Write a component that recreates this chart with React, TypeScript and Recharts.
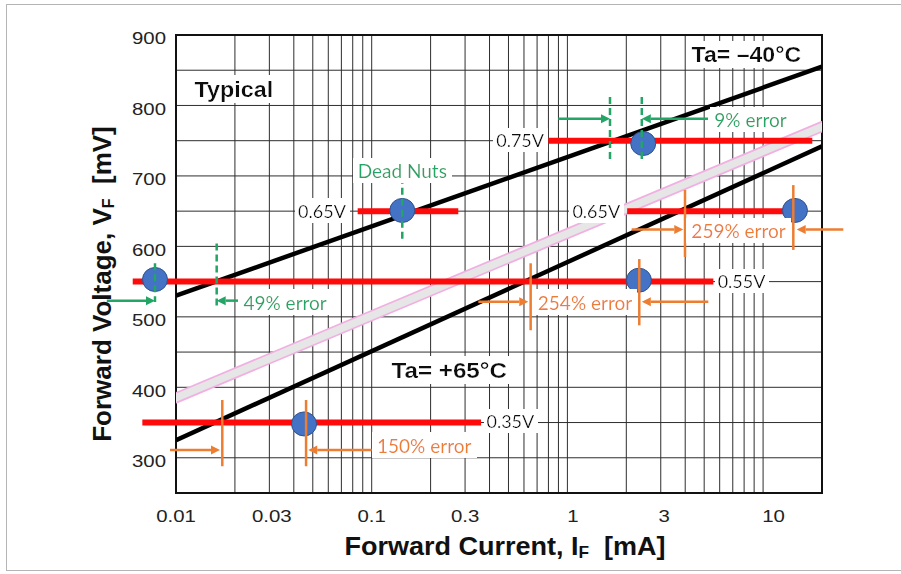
import React from 'react';
import {
  LineChart,
  Line,
  XAxis,
  YAxis,
  CartesianGrid,
  ReferenceLine,
  ReferenceDot,
  ReferenceArea,
} from 'recharts';

// ---------- data (mA on x, mV on y) ----------
const X_TICKS = [0.01, 0.03, 0.1, 0.3, 1, 3, 10];
const Y_TICKS = [300, 400, 500, 600, 700, 800, 900];
const GRID_X = [
  0.01, 0.02, 0.03, 0.04, 0.05, 0.06, 0.07, 0.08, 0.09,
  0.1, 0.2, 0.3, 0.4, 0.5, 0.6, 0.7, 0.8, 0.9,
  1, 2, 3, 4, 5, 6, 7, 8, 9, 10, 20,
];
const GRID_Y = [250, 300, 350, 400, 450, 500, 550, 600, 650, 700, 750, 800, 850, 900];

const CURVE_COLD = [{ x: 0.01, y: 530 }, { x: 20, y: 855 }]; // Ta = -40
const CURVE_TYPICAL = [{ x: 0.01, y: 385 }, { x: 20, y: 770 }];
const CURVE_HOT = [{ x: 0.01, y: 325 }, { x: 20, y: 742 }]; // Ta = +65

const BARS = [
  { y: 750, x1: 0.799, x2: 17.84 },
  { y: 650, x1: 0.0848, x2: 0.277 },
  { y: 650, x1: 2.02, x2: 14.5 },
  { y: 550, x1: 0.00601, x2: 5.57 },
  { y: 350, x1: 0.00673, x2: 0.362 },
];

const POINTS = [
  { x: 2.44, y: 746 },
  { x: 0.1433, y: 651 },
  { x: 14.55, y: 651 },
  { x: 0.00781, y: 553 },
  { x: 2.32, y: 552 },
  { x: 0.0451, y: 348 },
];

const VOLT_LABELS = [
  { text: '0.75V', x: 0.573, y: 750 },
  { text: '0.65V', x: 0.0557, y: 650 },
  { text: '0.65V', x: 1.405, y: 650 },
  { text: '0.55V', x: 7.76, y: 550 },
  { text: '0.35V', x: 0.511, y: 351 },
];

const GREEN_MARKERS = [
  { x: 1.651, y1: 812, y2: 723 },
  { x: 2.4, y1: 812, y2: 723 },
  { x: 0.1433, y1: 699, y2: 609 },
  { x: 0.00781, y1: 576, y2: 521 },
  { x: 0.01614, y1: 604, y2: 514 },
];

const ORANGE_MARKERS = [
  { x: 3.99, y1: 680, y2: 585 },
  { x: 14.27, y1: 687, y2: 595 },
  { x: 0.649, y1: 576, y2: 481 },
  { x: 2.33, y1: 582, y2: 488 },
  { x: 0.01724, y1: 382, y2: 288 },
  { x: 0.0462, y1: 382, y2: 288 },
];

const GREEN_ARROWS = [
  { y: 781, from: 0.898, to: 1.651 },
  { y: 781, from: 5.23, to: 2.4 },
  { y: 523, from: 0.00443, to: 0.00781 },
  { y: 523, from: 0.02074, to: 0.01614 },
];

const ORANGE_ARROWS = [
  { y: 624, from: 2.13, to: 3.91 },
  { y: 624, from: 25.7, to: 14.85 },
  { y: 521.5, from: 0.3505, to: 0.631 },
  { y: 521.5, from: 5.25, to: 2.4 },
  { y: 311, from: 0.00932, to: 0.01678 },
  { y: 311, from: 0.1, to: 0.0474 },
];

const GREEN_NOTES = [
  { text: 'Dead Nuts', x: 0.1433, y: 707 },
  { text: '9% error', x: 8.62, y: 779 },
  { text: '49% error', x: 0.0361, y: 520 },
];

const ORANGE_NOTES = [
  { text: '259% error', x: 7.49, y: 622 },
  { text: '254% error', x: 1.23, y: 520 },
  { text: '150% error', x: 0.1855, y: 317 },
];

const TITLES = [
  { text: 'Typical', x: 0.01976, y: 823.5 },
  { text: 'Ta= –40°C', x: 8.21, y: 873 },
  { text: 'Ta= +65°C', x: 0.249, y: 425 },
];

// ---------- styling ----------
const W = 901;
const H = 574;
const GREEN = '#22a565';
const ORANGE = '#ed7d31';
const RED = '#fe0a0a';
const BLUE = '#4472c4';
const AXIS_FONT = '"Liberation Sans", Arial, Helvetica, sans-serif';
const NOTE_FONT = 'Lato, "Open Sans", sans-serif';
const X_NUDGE: Record<string, number> = { '0.03': 2.5, '1': 5.5, '3': 3.5, '10': 10.5 };
const TITLE_STRETCH = [1.06, 1.05, 1.1];

const XTick = (p: any) => {
  const v = p.payload?.value;
  const nudge = X_NUDGE[String(v)] ?? 0;
  return (
    <text
      transform={`translate(${p.x + nudge},${p.y + 20.8}) scale(1.2,1)`}
      x={0}
      y={0}
      textAnchor="middle"
      fontFamily={AXIS_FONT}
      fontSize={17}
      fill="#222"
    >
      {String(v)}
    </text>
  );
};

const YTick = (p: any) => (
  <text
    transform={`translate(${p.x},${p.y + 9.2}) scale(1.2,1)`}
    x={0}
    y={0}
    textAnchor="end"
    fontFamily={AXIS_FONT}
    fontSize={17}
    fill="#222"
  >
    {String(p.payload?.value)}
  </text>
);

const XTitle = (p: any) => {
  const vb = p.viewBox || { x: 176, y: 493, width: 646 };
  return (
    <text
      transform={`translate(${vb.x + vb.width / 2 + 6},${vb.y + 61.5}) scale(1.08,1)`}
      x={0}
      y={0}
      textAnchor="middle"
      fontFamily={AXIS_FONT}
      fontWeight="bold"
      fontSize={25}
      fill="#111"
      style={{ whiteSpace: 'pre' }}
    >
      Forward Current, I
      <tspan fontSize={16} dy={3}>F</tspan>
      <tspan dy={-3}>{'  [mA]'}</tspan>
    </text>
  );
};

const YTitle = (p: any) => {
  const vb = p.viewBox || { x: 0, y: 35, width: 176, height: 458 };
  const cx = vb.x + 111;
  const cy = vb.y + vb.height / 2 + 20;
  return (
    <text
      transform={`translate(${cx},${cy}) rotate(-90)`}
      x={0}
      y={0}
      textAnchor="middle"
      fontFamily={AXIS_FONT}
      fontWeight="bold"
      fontSize={26}
      fill="#111"
      style={{ whiteSpace: 'pre' }}
    >
      Forward Voltage, V
      <tspan fontSize={16} dy={3}>F</tspan>
      <tspan dy={-3}>{'  [mV]'}</tspan>
    </text>
  );
};

const makeArrow = (color: string) => (p: any) => {
  const { x1, y1, x2, y2 } = p;
  const dx = x2 - x1;
  const dy = y2 - y1;
  const len = Math.hypot(dx, dy) || 1;
  const ux = dx / len;
  const uy = dy / len;
  const L = 9;
  const Wd = 4.5;
  const bx = x2 - ux * L;
  const by = y2 - uy * L;
  return (
    <g>
      <line x1={x1} y1={y1} x2={bx} y2={by} stroke={color} strokeWidth={2.5} />
      <polygon
        points={`${x2},${y2} ${bx - uy * Wd},${by + ux * Wd} ${bx + uy * Wd},${by - ux * Wd}`}
        fill={color}
      />
    </g>
  );
};

const makeText =
  (text: string, color: string, size: number, family: string, weight: string, sx = 1) =>
  (p: any) => (
    <g filter="url(#wbg)">
      <text
        transform={`translate(${p.cx},${p.cy + 0.36 * size}) scale(${sx},1)`}
        x={0}
        y={0}
        textAnchor="middle"
        fontFamily={family}
        fontSize={size}
        fontWeight={weight}
        fill={color}
      >
        {text}
      </text>
    </g>
  );

const ellipseShape = (p: any) => (
  <ellipse cx={p.cx} cy={p.cy} rx={12.5} ry={12} fill={BLUE} stroke="#2f528f" strokeWidth={1} />
);

export default function App() {
  return (
    <div style={{ position: 'absolute', left: 0, top: 0, width: W, height: H, background: '#fff' }}>
      <div
        style={{
          position: 'absolute',
          left: 6,
          top: 4,
          width: W - 6,
          height: 567,
          borderTop: '1px solid #b5b5b5',
          borderLeft: '1px solid #b5b5b5',
          borderBottom: '1px solid #b5b5b5',
          boxSizing: 'border-box',
        }}
      />
      <svg width={0} height={0} style={{ position: 'absolute' }}>
        <defs>
          <filter id="wbg" x="-0.05" y="-0.03" width="1.1" height="1.06">
            <feFlood floodColor="#ffffff" />
            <feComposite in="SourceGraphic" operator="over" />
          </filter>
        </defs>
      </svg>
      <div style={{ position: 'absolute', left: 0, top: 0 }}>
        <LineChart width={W} height={H} margin={{ top: 35, right: 79, bottom: 41, left: 0 }}>
          <CartesianGrid
            stroke="#2e2e2e"
            strokeWidth={1}
            verticalValues={GRID_X}
            horizontalValues={GRID_Y}
          />
          <XAxis
            type="number"
            dataKey="x"
            scale="log"
            domain={[0.01, 20]}
            ticks={X_TICKS}
            interval={0}
            allowDataOverflow
            axisLine={false}
            tickLine={false}
            tickMargin={2}
            height={40}
            tick={<XTick />}
            label={<XTitle />}
          />
          <YAxis
            type="number"
            dataKey="y"
            domain={[250, 900]}
            ticks={Y_TICKS}
            interval={0}
            allowDataOverflow
            axisLine={false}
            tickLine={false}
            tickMargin={4}
            width={176}
            tick={<YTick />}
            label={<YTitle />}
          />
          <ReferenceArea
            x1={0.01}
            x2={20}
            y1={250}
            y2={900}
            fill="none"
            fillOpacity={0}
            stroke="#111"
            strokeWidth={2}
            ifOverflow="visible"
          />
          <Line
            data={CURVE_TYPICAL}
            dataKey="y"
            stroke="#f1b0e2"
            strokeWidth={11}
            strokeLinecap="round"
            dot={false}
            activeDot={false}
            isAnimationActive={false}
          />
          <Line
            data={CURVE_TYPICAL}
            dataKey="y"
            stroke="#e6e6e6"
            strokeWidth={7.5}
            strokeLinecap="round"
            dot={false}
            activeDot={false}
            isAnimationActive={false}
          />
          <Line
            data={CURVE_COLD}
            dataKey="y"
            stroke="#000"
            strokeWidth={4.5}
            dot={false}
            activeDot={false}
            isAnimationActive={false}
          />
          <Line
            data={CURVE_HOT}
            dataKey="y"
            stroke="#000"
            strokeWidth={4.5}
            dot={false}
            activeDot={false}
            isAnimationActive={false}
          />
          {BARS.map((b, i) => (
            <ReferenceLine
              key={`bar-${i}`}
              segment={[{ x: b.x1, y: b.y }, { x: b.x2, y: b.y }]}
              stroke={RED}
              strokeWidth={6}
              ifOverflow="visible"
              zIndex={450}
            />
          ))}
          {POINTS.map((pt, i) => (
            <ReferenceDot
              key={`pt-${i}`}
              x={pt.x}
              y={pt.y}
              r={12}
              ifOverflow="visible"
              shape={ellipseShape}
              zIndex={600}
            />
          ))}
          {GREEN_MARKERS.map((m, i) => (
            <ReferenceLine
              key={`gm-${i}`}
              segment={[{ x: m.x, y: m.y1 }, { x: m.x, y: m.y2 }]}
              stroke={GREEN}
              strokeWidth={2.5}
              strokeDasharray="7 4"
              ifOverflow="visible"
              zIndex={700}
            />
          ))}
          {ORANGE_MARKERS.map((m, i) => (
            <ReferenceLine
              key={`om-${i}`}
              segment={[{ x: m.x, y: m.y1 }, { x: m.x, y: m.y2 }]}
              stroke={ORANGE}
              strokeWidth={2.5}
              ifOverflow="visible"
              zIndex={700}
            />
          ))}
          {GREEN_ARROWS.map((a, i) => (
            <ReferenceLine
              key={`ga-${i}`}
              segment={[{ x: a.from, y: a.y }, { x: a.to, y: a.y }]}
              stroke={GREEN}
              ifOverflow="visible"
              shape={makeArrow(GREEN)}
              zIndex={700}
            />
          ))}
          {ORANGE_ARROWS.map((a, i) => (
            <ReferenceLine
              key={`oa-${i}`}
              segment={[{ x: a.from, y: a.y }, { x: a.to, y: a.y }]}
              stroke={ORANGE}
              ifOverflow="visible"
              shape={makeArrow(ORANGE)}
              zIndex={700}
            />
          ))}
          {VOLT_LABELS.map((l, i) => (
            <ReferenceDot
              key={`vl-${i}`}
              x={l.x}
              y={l.y}
              r={1}
              ifOverflow="visible"
              shape={makeText(l.text, '#111', 18, NOTE_FONT, 'normal')}
              zIndex={800}
            />
          ))}
          {GREEN_NOTES.map((l, i) => (
            <ReferenceDot
              key={`gn-${i}`}
              x={l.x}
              y={l.y}
              r={1}
              ifOverflow="visible"
              shape={makeText(l.text, GREEN, 19, NOTE_FONT, 'normal')}
              zIndex={800}
            />
          ))}
          {ORANGE_NOTES.map((l, i) => (
            <ReferenceDot
              key={`on-${i}`}
              x={l.x}
              y={l.y}
              r={1}
              ifOverflow="visible"
              shape={makeText(l.text, ORANGE, 19, NOTE_FONT, 'normal')}
              zIndex={800}
            />
          ))}
          {TITLES.map((l, i) => (
            <ReferenceDot
              key={`tt-${i}`}
              x={l.x}
              y={l.y}
              r={1}
              ifOverflow="visible"
              shape={makeText(l.text, '#111', 22, AXIS_FONT, 'bold', TITLE_STRETCH[i])}
              zIndex={800}
            />
          ))}
        </LineChart>
      </div>
    </div>
  );
}
